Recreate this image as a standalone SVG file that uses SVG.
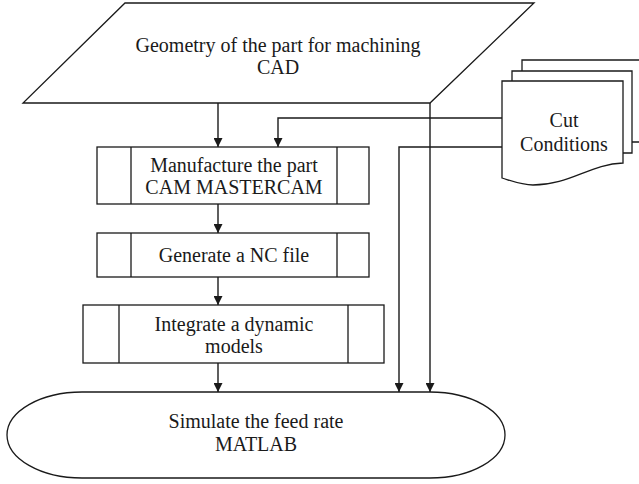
<svg xmlns="http://www.w3.org/2000/svg" width="639" height="484" viewBox="0 0 639 484">
<style>
.s{fill:#fff;stroke:#1a1a1a;stroke-width:1.3}
.l{fill:none;stroke:#1a1a1a;stroke-width:1.3}
.c{fill:none;stroke:#1a1a1a;stroke-width:1.4;marker-end:url(#ah)}
text{font-family:"Liberation Serif","Times New Roman",serif;font-size:20px;fill:#1a1a1a;text-anchor:middle}
</style>
<defs>
<marker id="ah" viewBox="0 0 10 10" refX="10" refY="5" markerWidth="10" markerHeight="9" markerUnits="userSpaceOnUse" orient="auto">
<path d="M0,0 L10,5 L0,10 Z" fill="#1a1a1a"/>
</marker>
</defs>
<rect width="639" height="484" fill="#fff"/>
<g id="cad">
<path class="s" d="M125,3 H534 L430,103 H23 Z"/>
<text x="278" y="52">Geometry of the part for machining</text>
<text x="278" y="74">CAD</text>
</g>
<g id="cut">
<path class="l" d="M522,71 V60 H645 M632,142 H645"/>
<path class="s" d="M512,81 V71 H632 V153 H623"/>
<path class="s" d="M502,81 H623 V163 C590,164 570,185 533,185 C522,185 512,181 502,178 Z"/>
<text x="564" y="127">Cut</text>
<text x="564" y="151">Conditions</text>
</g>
<g id="manufacture">
<rect class="s" x="97" y="147" width="272" height="57"/>
<path class="l" d="M131,147 V204 M337,147 V204"/>
<text x="234" y="172">Manufacture the part</text>
<text x="234" y="194">CAM MASTERCAM</text>
</g>
<g id="generate">
<rect class="s" x="97" y="233" width="272" height="44"/>
<path class="l" d="M131,233 V277 M337,233 V277"/>
<text x="234" y="262">Generate a NC file</text>
</g>
<g id="integrate">
<rect class="s" x="83" y="305" width="301" height="58"/>
<path class="l" d="M119,305 V363 M348,305 V363"/>
<text x="234" y="331">Integrate a dynamic</text>
<text x="234" y="353">models</text>
</g>
<g id="simulate">
<path class="s" d="M82,392 H430 A75,43 0 0 1 430,478 H82 A75,43 0 0 1 82,392 Z"/>
<text x="256" y="428">Simulate the feed rate</text>
<text x="256" y="451">MATLAB</text>
</g>
<g id="connectors">
<path class="c" d="M218,103 V147"/>
<path class="c" d="M502,118 H278 V147"/>
<path class="c" d="M218,204 V233"/>
<path class="c" d="M218,277 V305"/>
<path class="c" d="M218,363 V392"/>
<path class="c" d="M502,147 H399 V392"/>
<path class="c" d="M430,103 V392"/>
</g>
</svg>
